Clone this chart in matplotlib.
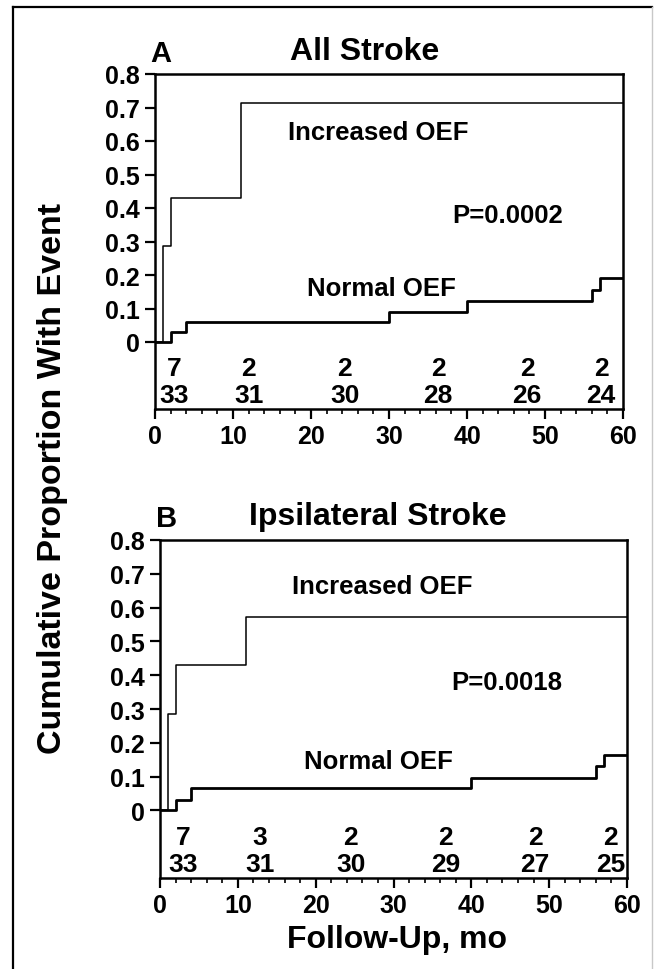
import matplotlib
matplotlib.use("Agg")
import matplotlib.pyplot as plt
from matplotlib.lines import Line2D
from matplotlib.ticker import MultipleLocator

plt.rcParams['font.family'] = ['Liberation Sans', 'DejaVu Sans']
plt.rcParams['font.weight'] = 'bold'

# ---- data ----
incA_t = [0, 1, 2, 11, 60]
incA_y = [0, 0.286, 0.429, 0.714, 0.714]
normA_t = [0, 2, 4, 30, 40, 56, 57, 60]
normA_y = [0, 0.030, 0.061, 0.091, 0.122, 0.156, 0.190, 0.190]

incB_t = [0, 1, 2, 11, 60]
incB_y = [0, 0.286, 0.429, 0.571, 0.571]
normB_t = [0, 2, 4, 40, 56, 57, 60]
normB_y = [0, 0.030, 0.065, 0.097, 0.131, 0.163, 0.163]

riskA_t = [2.5, 12, 24.3, 36.3, 47.7, 57.2]
riskA_inc = [7, 2, 2, 2, 2, 2]
riskA_norm = [33, 31, 30, 28, 26, 24]
riskB_t = [3, 12.8, 24.5, 36.7, 48.2, 57.9]
riskB_inc = [7, 3, 2, 2, 2, 2]
riskB_norm = [33, 31, 30, 29, 27, 25]

yticks = [0, 0.1, 0.2, 0.3, 0.4, 0.5, 0.6, 0.7, 0.8]
ytick_labels = ['0', '0.1', '0.2', '0.3', '0.4', '0.5', '0.6', '0.7', '0.8']
xticks = [0, 10, 20, 30, 40, 50, 60]

W, H = 655, 970
fig = plt.figure(figsize=(W / 100, H / 100), dpi=100)


def fx(px):
    return px / W


def fy(py):
    return 1 - py / H


# outer frame
fig.add_artist(Line2D([fx(13), fx(13)], [fy(8), 0], color='black', lw=1.6, transform=fig.transFigure))
fig.add_artist(Line2D([fx(13), fx(652)], [fy(8), fy(8)], color='black', lw=1.6, transform=fig.transFigure))
fig.add_artist(Line2D([fx(652), fx(652)], [fy(8), 0], color='#c8c8c8', lw=1.0, transform=fig.transFigure))


def panel(rect, inc_t, inc_y, norm_t, norm_y, risk_t, risk_inc, risk_norm, txt_pos):
    ax = fig.add_axes(rect)
    ax.step(inc_t, inc_y, where='post', color='black', lw=1.1)
    ax.step(norm_t, norm_y, where='post', color='black', lw=2.0)
    ax.set_xlim(0, 60)
    ax.set_ylim(-0.2, 0.8)
    for s in ax.spines.values():
        s.set_linewidth(1.8)
    ax.set_yticks(yticks)
    ax.set_yticklabels(ytick_labels, fontsize=18, fontweight='bold')
    ax.set_xticks(xticks)
    ax.set_xticklabels([str(v) for v in xticks], fontsize=18, fontweight='bold')
    ax.xaxis.set_minor_locator(MultipleLocator(2))
    ax.tick_params(axis='both', which='major', direction='out', length=7, width=1.6, pad=4)
    ax.tick_params(axis='x', which='minor', direction='out', length=3.5, width=1.2)
    for t, a, b in zip(risk_t, risk_inc, risk_norm):
        ax.text(t, -0.078, str(a), ha='center', va='center', fontsize=19, fontweight='bold')
        ax.text(t, -0.158, str(b), ha='center', va='center', fontsize=19, fontweight='bold')
    (ix, iy), (px_, py_, ptxt), (nx, ny) = txt_pos
    ax.text(ix, iy, 'Increased OEF', ha='center', va='center', fontsize=18.5, fontweight='bold')
    ax.text(px_, py_, ptxt, ha='center', va='center', fontsize=18.5, fontweight='bold')
    ax.text(nx, ny, 'Normal OEF', ha='center', va='center', fontsize=18.5, fontweight='bold')
    return ax


axA = panel([fx(155), fy(410), fx(623) - fx(155), fy(75) - fy(410)],
            incA_t, incA_y, normA_t, normA_y, riskA_t, riskA_inc, riskA_norm,
            [(28.6, 0.626), (45.2, 0.38, 'P=0.0002'), (29, 0.16)])
axB = panel([fx(160), fy(879), fx(627) - fx(160), fy(541) - fy(879)],
            incB_t, incB_y, normB_t, normB_y, riskB_t, riskB_inc, riskB_norm,
            [(28.5, 0.664), (44.6, 0.38, 'P=0.0018'), (28.1, 0.146)])

fig.text(fx(160.5), fy(62), 'A', ha='center', va='baseline', fontsize=21, fontweight='bold')
fig.text(fx(365), fy(60), 'All Stroke', ha='center', va='baseline', fontsize=23, fontweight='bold')
fig.text(fx(167), fy(527), 'B', ha='center', va='baseline', fontsize=21, fontweight='bold')
fig.text(fx(378), fy(525), 'Ipsilateral Stroke', ha='center', va='baseline', fontsize=23, fontweight='bold')
fig.text(fx(397), fy(948), 'Follow-Up, mo', ha='center', va='baseline', fontsize=23, fontweight='bold')
fig.text(fx(53), fy(478), 'Cumulative Proportion With Event', ha='center', va='center',
         rotation=90, fontsize=24.5, fontweight='bold')

fig.savefig('out.png', dpi=100)
